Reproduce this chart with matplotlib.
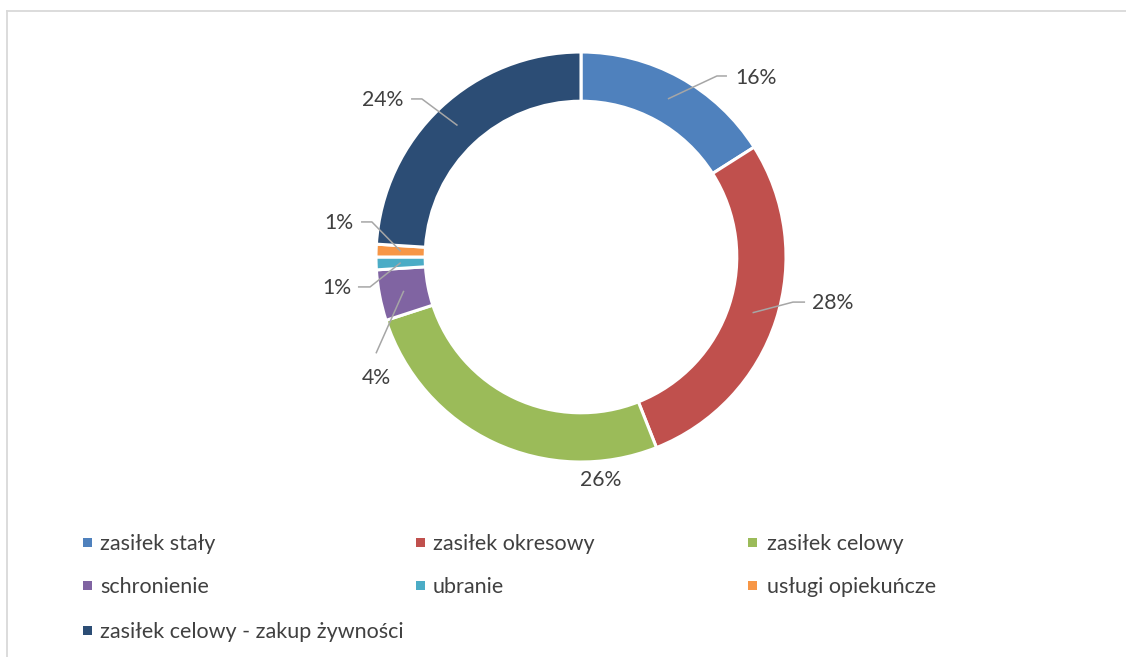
import matplotlib
matplotlib.use("Agg")
import matplotlib.pyplot as plt
from matplotlib.lines import Line2D
from matplotlib.patches import Rectangle
import numpy as np

plt.rcParams['font.family'] = ['Lato', 'DejaVu Sans']

categories = ["zasiłek stały", "zasiłek okresowy", "zasiłek celowy",
              "schronienie", "ubranie", "usługi opiekuńcze",
              "zasiłek celowy - zakup żywności"]
shares = [16, 28, 26, 4, 1, 1, 24]
colors = ["#4f81bd", "#c0504d", "#9bbb59", "#8064a2", "#4bacc6", "#f79646", "#2c4d75"]

W, H = 1126, 657
fig = plt.figure(figsize=(W / 100, H / 100), dpi=100)
fig.patch.set_facecolor("white")

# square axes holding the ring, centred at (581, 400) px from the bottom-left
half = 205 * 1.6
ax = fig.add_axes([(581 - half) / W, (400 - half) / H, 2 * half / W, 2 * half / H])

wedges, _ = ax.pie(shares, colors=colors, startangle=90, counterclock=False,
                   radius=1.0,
                   wedgeprops=dict(width=0.24, edgecolor="white", linewidth=2.2))
ax.set_xlim(-1.6, 1.6)
ax.set_ylim(-1.6, 1.6)
ax.set_aspect("equal")
ax.axis("off")

txt_color = "#404040"
line_color = "#a6a6a6"

# label layout: (elbow point, end of horizontal tick, text position, alignment)
layout = [
    ((0.663, 0.883), (0.712, 0.883), (0.755, 0.875), "left"),
    ((1.034, -0.220), (1.093, -0.220), (1.127, -0.222), "left"),
    (None, None, (0.098, -1.090), "center"),
    ((-1.000, -0.470), None, (-1.000, -0.590), "center"),
    ((-1.029, -0.146), (-1.088, -0.146), (-1.122, -0.150), "right"),
    ((-1.020, 0.171), (-1.073, 0.171), (-1.112, 0.165), "right"),
    ((-0.776, 0.771), (-0.829, 0.771), (-0.868, 0.766), "right"),
]

for w, val, (elbow, end, tpos, ha) in zip(wedges, shares, layout):
    mid = np.deg2rad((w.theta1 + w.theta2) / 2)
    ax_pt = (0.88 * np.cos(mid), 0.88 * np.sin(mid))
    if elbow is not None:
        xs = [ax_pt[0], elbow[0]]
        ys = [ax_pt[1], elbow[1]]
        if end is not None:
            xs.append(end[0])
            ys.append(end[1])
        ax.plot(xs, ys, color=line_color, lw=1.1, solid_capstyle="butt", zorder=3)
    ax.text(tpos[0], tpos[1], f"{val}%", ha=ha, va="center",
            fontsize=15.3, color=txt_color)

# legend laid out in three equal columns
col_sq = [83, 416, 748]
col_tx = [100, 433, 767]
row_y = [542, 585, 630]
sq = 9
for i, (name, c) in enumerate(zip(categories, colors)):
    r, k = divmod(i, 3)
    yc = H - row_y[r]
    fig.patches.append(Rectangle(((col_sq[k]) / W, (yc - sq / 2) / H), sq / W, sq / H,
                                 transform=fig.transFigure, facecolor=c,
                                 edgecolor="none"))
    fig.text(col_tx[k] / W, yc / H, name, ha="left", va="center_baseline",
             fontsize=15.5, color=txt_color)

# chart frame (top and left edges)
fig.add_artist(Line2D([7 / W, 7 / W], [0, (H - 11) / H], transform=fig.transFigure,
                      color="#d9d9d9", lw=1.3))
fig.add_artist(Line2D([7 / W, 1], [(H - 11) / H, (H - 11) / H], transform=fig.transFigure,
                      color="#d9d9d9", lw=1.3))

fig.savefig("out.png", dpi=100)
